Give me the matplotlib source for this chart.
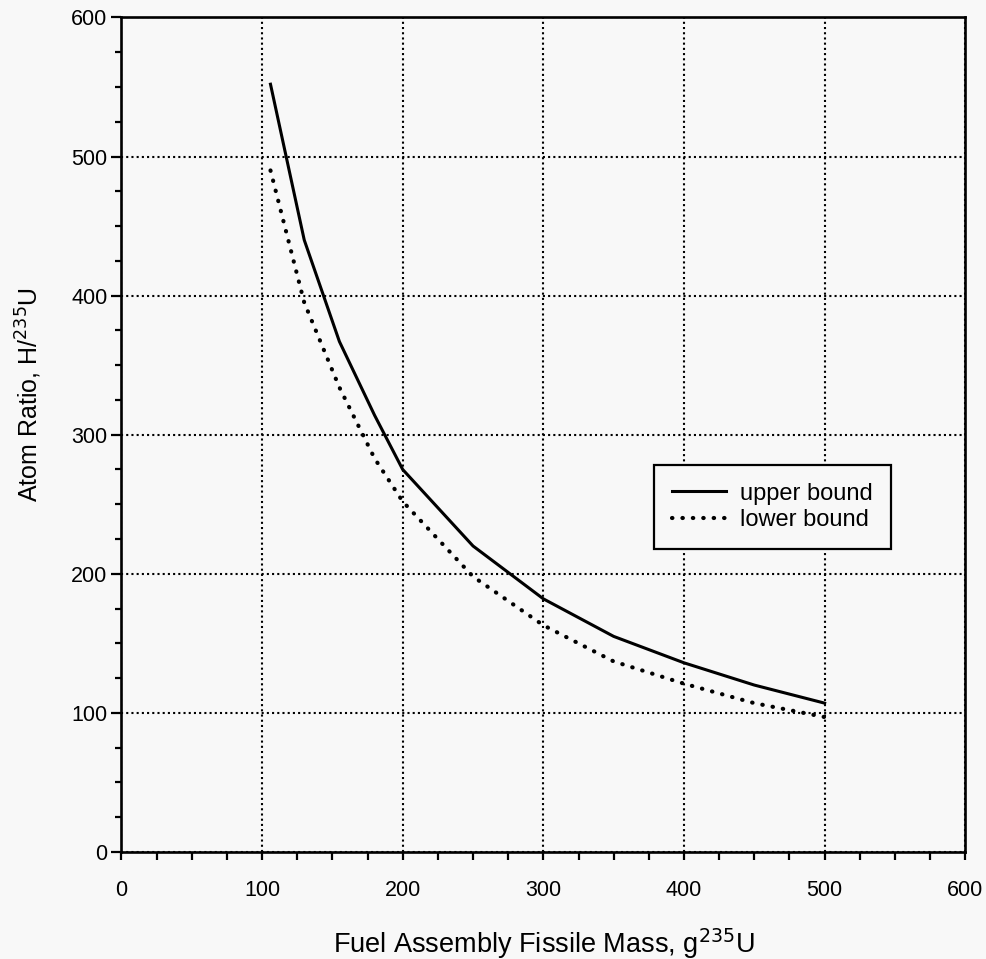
import matplotlib.pyplot as plt
from matplotlib.ticker import MultipleLocator

# data
mass = [106, 130, 155, 180, 200, 250, 300, 350, 400, 450, 500]
upper_bound = [552, 440, 367, 314, 275, 220, 182, 155, 136, 120, 107]
lower_bound = [490, 395, 334, 283, 252, 198, 163, 137, 121, 107, 97]

x_ticks = [0, 100, 200, 300, 400, 500, 600]
y_ticks = [0, 100, 200, 300, 400, 500, 600]

plt.rcParams['font.family'] = ['Liberation Sans', 'DejaVu Sans']
bg = '#f8f8f8'

fig = plt.figure(figsize=(9.87, 9.59), dpi=100, facecolor=bg)
ax = fig.add_axes([0.123, 0.1116, 0.855, 0.8702], facecolor=bg)

ax.plot(mass, upper_bound, color='black', lw=2.2, label='upper bound')
ax.plot(mass, lower_bound, color='black', lw=3, linestyle=(0, (0.1, 2.4)),
        dash_capstyle='round', label='lower bound')

ax.set_xlim(0, 600)
ax.set_ylim(0, 600)
ax.set_xticks(x_ticks)
ax.set_yticks(y_ticks)
ax.xaxis.set_minor_locator(MultipleLocator(25))
ax.yaxis.set_minor_locator(MultipleLocator(25))

ax.grid(True, which='major', color='black', lw=1.5, linestyle=(0, (1, 1.5)))
ax.set_axisbelow(True)

for s in ax.spines.values():
    s.set_linewidth(1.9)

ax.tick_params(axis='x', which='major', direction='out', length=6, width=1.6,
               pad=14, labelsize=15.5)
ax.tick_params(axis='x', which='minor', direction='out', length=6, width=1.6)
ax.tick_params(axis='y', which='major', direction='out', length=7, width=1.6,
               pad=3, labelsize=15.5)
ax.tick_params(axis='y', which='minor', direction='out', length=4, width=1.6)

ax.set_xlabel('Fuel Assembly Fissile Mass, g$^{235}$U', fontsize=19.5)
ax.set_ylabel('Atom Ratio, H/$^{235}$U', fontsize=18)
ax.xaxis.set_label_coords(0.5, -0.089)
ax.yaxis.set_label_coords(-0.092, 0.548)

leg = ax.legend(loc='upper left', bbox_to_anchor=(0.631, 0.4637),
                borderaxespad=0, fontsize=17, handlelength=2.3,
                handletextpad=0.6, labelspacing=0.2, borderpad=0.75,
                fancybox=False, framealpha=1, facecolor=bg, edgecolor='black')
leg.get_frame().set_linewidth(1.6)

fig.savefig('out.png', dpi=100, facecolor=bg)
